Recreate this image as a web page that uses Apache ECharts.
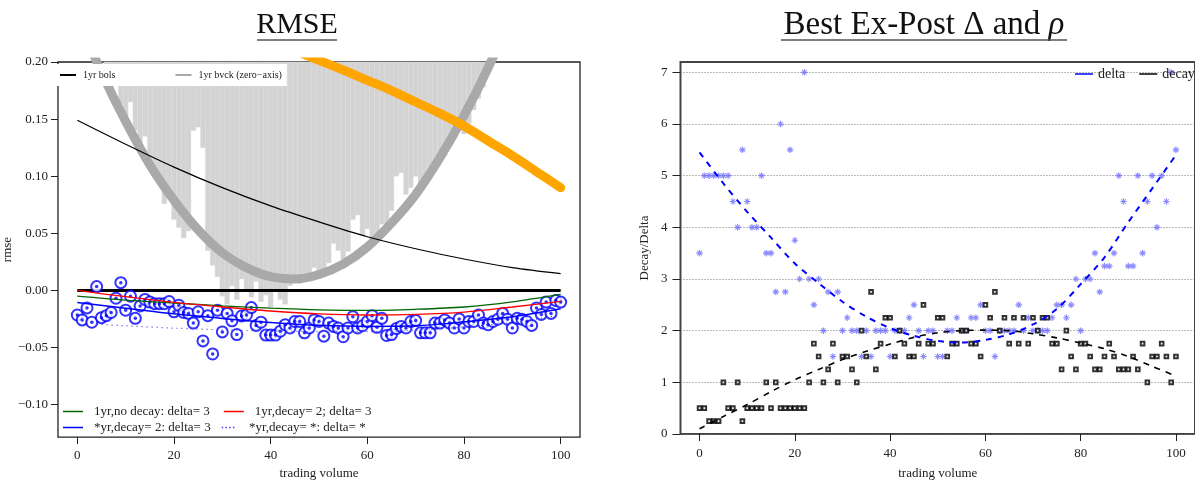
<!DOCTYPE html>
<html><head><meta charset="utf-8">
<script src="https://cdn.jsdelivr.net/npm/echarts@6/dist/echarts.min.js"></script>
<style>html,body{margin:0;padding:0;background:#fff}#c{width:1195px;height:485px}</style>
</head><body><div id="c"></div>
<script>
const F = '"Liberation Serif","DejaVu Serif",serif';

// ---------- shared ----------
const tradingVolume = Array.from({length:101},(_,i)=>i);
const volumeTicks = [0,20,40,60,80,100];
const rmseTicks = [-0.10,-0.05,0.00,0.05,0.10,0.15,0.20];
const decayTicks = [0,1,2,3,4,5,6,7];

// ---------- left panel (RMSE) ----------
const bvckRaw = [0.27,0.26,0.25,0.235,0.22,0.205,0.19,0.178,0.182,0.163,
0.152,0.165,0.14,0.128,0.135,0.112,0.1,0.098,0.076,0.085,
0.062,0.055,0.046,0.052,0.14,0.143,0.125,0.035,0.022,0.012,
-0.005,-0.012,0.004,-0.008,0.01,0.0,-0.006,0.008,-0.01,-0.004,
-0.015,0.0,-0.008,-0.012,0.004,0.012,0.006,0.015,0.01,0.02,
0.016,0.012,0.024,0.041,0.035,0.027,0.034,0.062,0.066,0.048,
0.054,0.044,0.05,0.058,0.055,0.07,0.1,0.103,0.084,0.09,
0.1,0.088,0.095,0.102,0.108,0.113,0.118,0.126,0.133,0.14,
0.137,0.146,0.158,0.168,0.178,0.19,0.205,0.22,0.235,0.25,
0.27,0.29,0.31,0.33,0.35,0.37,0.39,0.41,0.43,0.45,0.47];
const bvckFitX = [0,5,10,15,20,25,30,35,40,45,50,55,60,65,70,75,80,85,90,95,100];
const bvckFit = [0.240,0.191,0.148,0.110,0.079,0.053,0.033,0.020,0.012,0.010,0.014,0.023,0.038,0.059,0.084,0.116,0.153,0.195,0.243,0.296,0.355];
const orangeX = [40,45,50,55,60,65,70,75,80,85,90,95,100];
const orangeY = [0.219,0.210,0.2015,0.193,0.184,0.175,0.165,0.155,0.144,0.131,0.118,0.104,0.090];
const bolsX = [0,10,20,30,40,50,60,70,80,90,100];
const bols = [0.149,0.128,0.108,0.090,0.074,0.060,0.047,0.0365,0.0275,0.020,0.0147];
const zeroX = [0,100];
const zeroY = [0,0];
const lineX = [0,10,20,30,40,50,60,70,80,90,100];
const noDecay = [-0.005,-0.0085,-0.011,-0.0135,-0.0155,-0.017,-0.0175,-0.0165,-0.0145,-0.010,-0.0035];
const decay2 = [0.0,-0.0055,-0.0105,-0.0145,-0.018,-0.0205,-0.0215,-0.021,-0.019,-0.0145,-0.0095];
const starDecay2 = [-0.0105,-0.0155,-0.0205,-0.0245,-0.028,-0.0305,-0.0315,-0.031,-0.0275,-0.023,-0.016];
const starX = [4,10,20,30,40,50,60,70,80,90,100];
const starStar = [-0.0295,-0.031,-0.033,-0.0345,-0.0355,-0.036,-0.036,-0.035,-0.032,-0.028,-0.0215];
const rmsePoints = [-0.0215,-0.0258,-0.0153,-0.0278,0.0034,-0.0238,-0.0221,-0.0193,-0.0068,0.0068,
-0.0173,-0.0051,-0.0244,-0.0136,-0.0079,-0.0102,-0.0116,-0.0116,-0.0116,-0.0097,
-0.0187,-0.0130,-0.0193,-0.0201,-0.0286,-0.0187,-0.0442,-0.0221,-0.0556,-0.0173,
-0.0363,-0.0201,-0.0266,-0.0386,-0.0224,-0.0215,-0.0150,-0.0306,-0.0278,-0.0391,
-0.0391,-0.0391,-0.0357,-0.0300,-0.0329,-0.0272,-0.0272,-0.0371,-0.0329,-0.0258,
-0.0272,-0.0400,-0.0286,-0.0315,-0.0329,-0.0405,-0.0329,-0.0230,-0.0329,-0.0309,
-0.0272,-0.0221,-0.0323,-0.0244,-0.0394,-0.0386,-0.0334,-0.0315,-0.0329,-0.0272,
-0.0264,-0.0371,-0.0371,-0.0371,-0.0286,-0.0286,-0.0258,-0.0286,-0.0329,-0.0249,
-0.0329,-0.0272,-0.0272,-0.0215,-0.0286,-0.0300,-0.0272,-0.0252,-0.0201,-0.0252,
-0.0329,-0.0244,-0.0252,-0.0272,-0.0306,-0.0153,-0.0210,-0.0102,-0.0201,-0.0088,
-0.0102];

// ---------- right panel (Best Ex-Post) ----------
const bestDelta = [3.5,5.0,5.0,5.0,5.0,5.0,5.0,4.5,4.0,5.5,
4.5,4.0,4.0,5.0,3.5,3.5,2.75,6.0,2.75,5.5,
3.75,3.0,7.0,3.0,2.5,3.0,2.0,2.75,1.5,2.75,
2.0,2.25,2.0,2.0,1.5,2.0,1.5,2.0,2.0,2.0,
1.5,2.0,2.0,2.0,2.25,2.5,2.0,1.5,2.0,2.0,
1.5,1.5,2.0,2.0,2.25,2.0,2.0,2.25,2.25,2.5,
2.0,2.0,1.5,2.0,2.0,2.0,2.0,2.5,2.0,2.25,
2.0,2.0,2.0,2.0,2.25,2.5,2.5,2.25,2.5,3.0,
2.0,3.0,3.0,3.5,2.75,3.25,3.25,3.5,5.0,4.5,
3.25,3.25,5.0,3.5,4.5,5.0,4.0,5.0,4.5,7.0,
5.5];
const bestDecay = [0.5,0.5,0.25,0.25,0.25,1.0,0.5,0.5,1.0,0.25,
0.5,0.5,0.5,0.5,1.0,0.5,1.0,0.5,0.5,0.5,
0.5,0.5,0.5,1.0,1.75,1.5,1.0,1.25,1.75,1.0,
1.5,1.5,1.25,1.0,2.0,1.5,2.75,1.25,1.75,2.25,
2.25,1.5,2.0,1.75,1.5,1.5,1.75,2.5,1.75,1.75,
2.25,2.25,1.5,1.75,1.75,2.0,2.0,1.75,1.75,1.5,
2.5,2.25,2.75,2.0,2.25,1.75,2.25,1.75,2.25,1.75,
2.25,2.0,2.25,2.25,1.75,1.75,1.25,2.0,1.5,1.25,
1.75,1.75,1.5,1.25,1.25,1.5,1.75,1.5,1.25,1.25,
1.25,1.5,1.25,1.75,1.0,1.5,1.5,1.75,1.5,1.0,
1.5];
const fitX = [0,5,10,15,20,25,30,35,40,45,50,55,60,65,70,75,80,85,90,95,100];
const deltaFit = [5.45,4.85,4.3,3.8,3.3,2.92,2.56,2.27,2.05,1.9,1.8,1.77,1.82,1.93,2.12,2.42,2.9,3.42,4.1,4.75,5.4];
const decayFit = [0.1,0.34,0.57,0.82,1.05,1.25,1.44,1.6,1.74,1.87,1.96,2.0,2.01,2.0,1.94,1.86,1.76,1.65,1.5,1.31,1.12];

// ---------- build ----------
const pair = (xs, ys) => xs.map((x,i)=>[x, ys[i]]);
const starPath = 'path://M-5,-0.9L5,-0.9L5,0.9L-5,0.9Z M-0.9,-5L0.9,-5L0.9,5L-0.9,5Z M-2.97,-4.03L4.03,2.97L2.97,4.03L-4.03,-2.97Z M2.97,-4.03L4.03,-2.97L-2.97,4.03L-4.03,2.97Z';
const dottedIcon = 'path://M0,0h2v2h-2z M5,0h2v2h-2z M10,0h2v2h-2z M15,0h2v2h-2z';
const txt = {fontFamily:F, color:'#222'};

function lineSeries(name, xs, ys, color, width, extra){
  return Object.assign({
    type:'line', name, xAxisIndex:0, yAxisIndex:0, data:pair(xs, ys),
    showSymbol:false, symbol:'none', silent:true, smooth:0.3,
    itemStyle:{color}, lineStyle:{color, width}
  }, extra||{});
}
const noLine = {show:false, onZero:false};

const chart = echarts.init(document.getElementById('c'), null, {renderer:'canvas'});
const option = {
  animation:false,
  backgroundColor:'#fff',
  graphic:[
    {type:'text', x:297, y:25, style:{text:'RMSE', fontFamily:F, fontSize:30, fill:'#111', align:'center', verticalAlign:'middle', textAlign:'center', textVerticalAlign:'middle'}},
    {type:'line', shape:{x1:257,y1:40,x2:337,y2:40}, style:{stroke:'#555', lineWidth:1.5}},
    {type:'text', x:924, y:25, style:{text:'{a|Best Ex-Post Δ and }{b|ρ}', fill:'#111', align:'center', verticalAlign:'middle', textAlign:'center', textVerticalAlign:'middle',
      rich:{a:{fontFamily:F, fontSize:33, fill:'#111'}, b:{fontFamily:F, fontSize:33, fontStyle:'italic', fill:'#111'}}}},
    {type:'line', shape:{x1:781,y1:40,x2:1067,y2:40}, style:{stroke:'#555', lineWidth:1.5}}
  ],
  grid:[
    {left:52, top:62, width:528, height:387, show:true, borderColor:'#222', borderWidth:1.3, backgroundColor:'transparent'},
    {left:680.5, top:62, width:525.4, height:377.3, show:true, borderColor:'#444', borderWidth:2, backgroundColor:'transparent'}
  ],
  xAxis:[
    {type:'value', gridIndex:0, min:-4, max:104, axisLine:noLine,
     axisTick:{show:true, customValues:volumeTicks, length:7, lineStyle:{color:'#222'}},
     axisLabel:{customValues:volumeTicks, margin:12, fontSize:13, ...txt},
     splitLine:{show:false}, name:'trading volume', nameLocation:'middle', nameGap:24,
     nameTextStyle:{fontSize:13, ...txt}},
    {type:'value', gridIndex:1, min:-4, max:104, axisLine:noLine,
     axisTick:{show:true, customValues:volumeTicks, length:7, lineStyle:{color:'#222'}},
     axisLabel:{customValues:volumeTicks, margin:13, fontSize:13, ...txt},
     splitLine:{show:false}, name:'trading volume', nameLocation:'middle', nameGap:33,
     nameTextStyle:{fontSize:13, ...txt}}
  ],
  yAxis:[
    {type:'value', gridIndex:0, min:-0.1284, max:0.2, axisLine:noLine,
     axisTick:{show:true, customValues:rmseTicks, length:7, lineStyle:{color:'#222'}},
     axisLabel:{customValues:rmseTicks, margin:10, fontSize:13, ...txt,
       formatter:v=>(v<-1e-9?'\u2212':'')+Math.abs(v).toFixed(2)},
     splitLine:{show:false}, name:'rmse', nameLocation:'middle', nameGap:29,
     nameTextStyle:{fontSize:13, ...txt}},
    {type:'value', gridIndex:1, min:0, max:7.2, interval:1, axisLine:noLine,
     axisTick:{show:true, customValues:decayTicks, length:8, lineStyle:{color:'#222'}},
     axisLabel:{customValues:decayTicks, margin:13, fontSize:13, ...txt},
     splitLine:{show:true, lineStyle:{type:[1,2], color:'#777', width:1}},
     name:'Decay/Delta', nameLocation:'middle', nameGap:29,
     nameTextStyle:{fontSize:13, ...txt}}
  ],
  legend:[
    {data:['1yr bols','1yr bvck (zero\u2212axis)'], left:53, top:64, orient:'horizontal',
     backgroundColor:'#fff', padding:[6,5,6,7], itemWidth:16, itemHeight:2, itemGap:60, icon:'rect',
     itemStyle:{borderWidth:0}, selectedMode:false, textStyle:{fontSize:10, ...txt, padding:[0,0,0,2]}},
    {data:['1yr,no decay: delta= 3','1yr,decay= 2; delta= 3'], left:56, top:405, padding:[0,7],
     itemWidth:20, itemHeight:1.5, itemGap:14, icon:'rect', itemStyle:{borderWidth:0}, selectedMode:false,
     textStyle:{fontSize:13, ...txt, padding:[0,0,0,6]}},
    {data:['*yr,decay= 2: delta= 3', {name:'*yr,decay= *: delta= *', icon:dottedIcon}], left:56, top:421, padding:[0,7],
     itemWidth:20, itemHeight:1.5, itemGap:11, icon:'rect', itemStyle:{borderWidth:0}, selectedMode:false,
     textStyle:{fontSize:13, ...txt, padding:[0,0,0,6]}},
    {data:['delta','decay'], left:1070, top:67, width:400, orient:'horizontal', padding:[0,5],
     itemWidth:18, itemHeight:1.5, itemGap:14, icon:'rect', itemStyle:{borderWidth:0}, selectedMode:false,
     textStyle:{fontSize:14, ...txt}}
  ],
  series:[
    {type:'custom', name:'bvck raw', xAxisIndex:0, yAxisIndex:0, silent:true, z:1,
     data:pair(tradingVolume, bvckRaw),
     renderItem:(params, api)=>{
       const cs = params.coordSys;
       const x = api.value(0), low = api.value(1);
       const p = api.coord([x, low]);
       const w = api.size([1,0])[0];
       const bottom = Math.min(p[1], cs.y + cs.height);
       if (bottom <= cs.y + 0.5) return null;
       const r = echarts.graphic.clipRectByRect({x:p[0]-w/2, y:cs.y, width:w, height:bottom-cs.y},
         {x:cs.x, y:cs.y, width:cs.width, height:cs.height});
       if (!r) return null;
       return {type:'rect', shape:r, style:{fill:'#d3d3d3', stroke:'#dcdcdc', lineWidth:0.4}};
     }},
    lineSeries('1yr bvck (zero\u2212axis)', bvckFitX, bvckFit, '#a9a9a9', 9, {z:2}),
    lineSeries('orange fit', orangeX, orangeY, '#ffa500', 9, {z:2, lineStyle:{color:'#ffa500', width:9, cap:'round'}}),
    lineSeries('1yr bols', bolsX, bols, '#000', 1.2, {z:3}),
    lineSeries('zero', zeroX, zeroY, '#000', 3, {z:3, smooth:false}),
    {type:'scatter', name:'rmse pts', xAxisIndex:0, yAxisIndex:0, silent:true, z:4,
     data:pair(tradingVolume, rmsePoints), symbol:'emptyCircle', symbolSize:11,
     itemStyle:{color:'#0000ff', borderColor:'#0000ff', borderWidth:1}},
    {type:'scatter', name:'rmse dots', xAxisIndex:0, yAxisIndex:0, silent:true, z:4,
     data:pair(tradingVolume, rmsePoints), symbol:'circle', symbolSize:3.5,
     itemStyle:{color:'#0000ff'}},
    lineSeries('1yr,no decay: delta= 3', lineX, noDecay, '#006400', 1.3, {z:5}),
    lineSeries('1yr,decay= 2; delta= 3', lineX, decay2, '#ff0000', 1.3, {z:5}),
    lineSeries('*yr,decay= 2: delta= 3', lineX, starDecay2, '#0000ff', 1.5, {z:5}),
    lineSeries('*yr,decay= *: delta= *', starX, starStar, '#3c3cff', 1, {z:5, lineStyle:{color:'#3c3cff', width:1.2, type:[1,4]}}),

    // right panel
    {type:'scatter', name:'delta pts', xAxisIndex:1, yAxisIndex:1, silent:true, z:3,
     data:pair(tradingVolume, bestDelta), symbol:starPath, symbolSize:6.5,
     itemStyle:{color:'#6e6eff'}},
    {type:'scatter', name:'decay pts', xAxisIndex:1, yAxisIndex:1, silent:true, z:4,
     data:pair(tradingVolume, bestDecay), symbol:'rect', symbolSize:3.6,
     itemStyle:{color:'#fff', borderColor:'#000', borderWidth:2}},
    {type:'line', name:'delta', xAxisIndex:1, yAxisIndex:1, silent:true, z:5, smooth:0.3,
     data:pair(fitX, deltaFit), showSymbol:false, symbol:'none',
     itemStyle:{color:'#0000ff'}, lineStyle:{color:'#0000ff', width:2, type:[6,6]}},
    {type:'line', name:'decay', xAxisIndex:1, yAxisIndex:1, silent:true, z:5, smooth:0.3,
     data:pair(fitX, decayFit), showSymbol:false, symbol:'none',
     itemStyle:{color:'#000'}, lineStyle:{color:'#000', width:1.6, type:[6,6]}}
  ]
};
chart.setOption(option);
</script>
</body></html>
